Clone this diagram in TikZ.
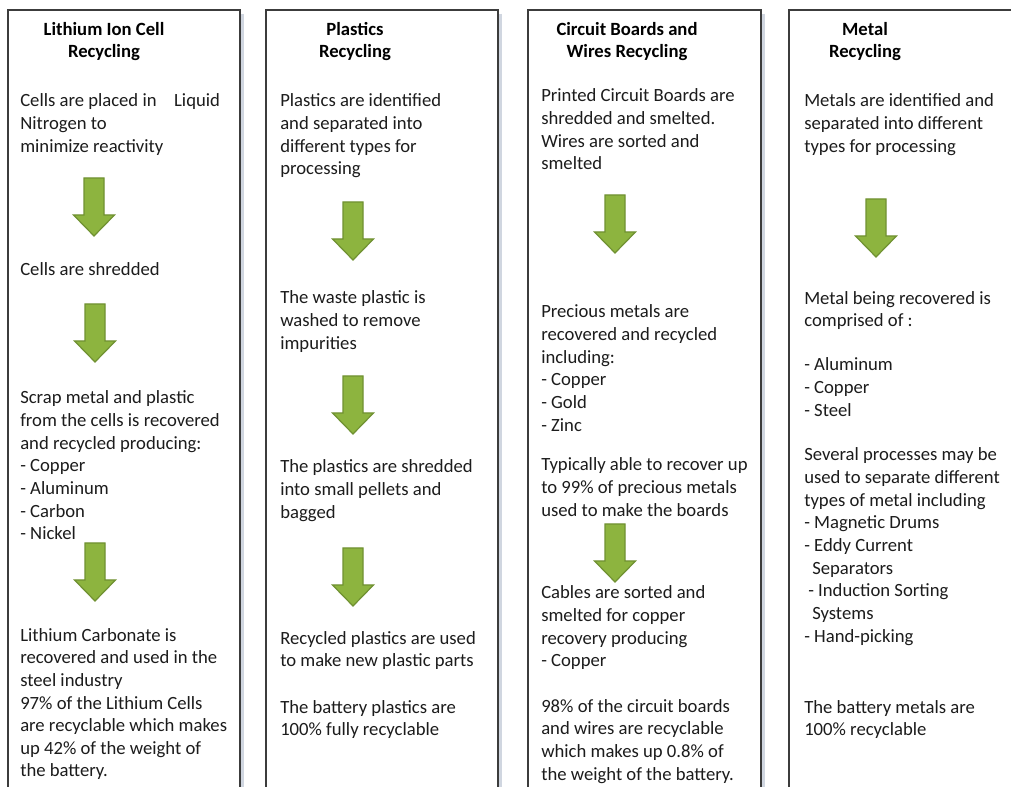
\documentclass[tikz,border=0pt]{standalone}
\usepackage{fontspec}
\setmainfont{Carlito}
\usetikzlibrary{positioning}
\definecolor{ArrowGreen}{RGB}{141,180,63}
\definecolor{ArrowEdge}{RGB}{112,145,50}
\definecolor{BoxEdge}{RGB}{60,60,60}
\definecolor{BoxShade}{RGB}{208,214,224}
\definecolor{TextGray}{RGB}{28,28,28}
\tikzset{
  panel/.style={draw=BoxEdge,line width=1.1pt},
  panelshade/.style={draw=BoxShade,line width=2.2pt},
  heading/.style={font=\bfseries\fontsize{14}{17}\selectfont,align=center,
    anchor=base,inner sep=0pt,text=black},
  body/.style={font=\fontsize{14}{17}\selectfont,align=left,
    anchor=base west,inner sep=0pt,text=TextGray},
  downarrow/.style={fill=ArrowGreen,draw=ArrowEdge,line width=0.9pt,line join=miter}
}
% block arrow pointing down: centre x, top y (pixel units)
\newcommand{\greenarrow}[2]{%
  \draw[downarrow] (#1-10,#2) -- (#1+10,#2) -- (#1+10,#2+37) -- (#1+20.5,#2+37)
    -- (#1,#2+58) -- (#1-20.5,#2+37) -- (#1-10,#2+37) -- cycle;}

\begin{document}
\begin{tikzpicture}[x=0.75pt,y=-0.75pt]
  \useasboundingbox (0,0) rectangle (1011,787);
  \clip (0,0) rectangle (1011,787);
  \fill[white] (0,0) rectangle (1011,787);

  % the four panels, open at the bottom
  \draw[panelshade] (242.5,14) -- (242.5,787);
  \draw[panelshade] (500.5,14) -- (500.5,787);
  \draw[panelshade] (763.5,14) -- (763.5,787);
  \draw[panel] (8,787) -- (8,10) -- (240,10) -- (240,787);
  \draw[panel] (266,787) -- (266,10) -- (498,10) -- (498,787);
  \draw[panel] (528,787) -- (528,10) -- (761,10) -- (761,787);
  \draw[panel] (789,787) -- (789,10) -- (1020,10) -- (1020,787);

  % nodes sit on the baseline of their last line
  % Lithium ion cells
  \node[heading] (li-title) at (104,58) {Lithium Ion Cell\\Recycling};
  \node[body] (li-cool) at (20,152.3) {Cells are placed in\hspace{10pt} Liquid\\Nitrogen to\\minimize reactivity};
  \greenarrow{94}{178}
  \node[body] (li-shred) at (20,276) {Cells are shredded};
  \greenarrow{95}{304}
  \node[body] (li-scrap) at (20,540) {Scrap metal and plastic\\from the cells is recovered\\and recycled producing:\\- Copper\\- Aluminum\\- Carbon\\- Nickel};
  \greenarrow{95}{543}
  \node[body] (li-carb) at (20,777) {Lithium Carbonate is\\recovered and used in the\\steel industry\\97\% of the Lithium Cells\\are recyclable which makes\\up 42\% of the weight of\\the battery.};

  % Plastics
  \node[heading] (pl-title) at (355,58) {Plastics\\Recycling};
  \node[body] (pl-sort) at (280,175) {Plastics are identified\\and separated into\\different types for\\processing};
  \greenarrow{353}{202}
  \node[body] (pl-wash) at (280,349.3) {The waste plastic is\\washed to remove\\impurities};
  \greenarrow{353}{376}
  \node[body] (pl-shred) at (280,518.3) {The plastics are shredded\\into small pellets and\\bagged};
  \greenarrow{353}{548}
  \node[body] (pl-reuse) at (280,666.7) {Recycled plastics are used\\to make new plastic parts};
  \node[body] (pl-total) at (280,735.7) {The battery plastics are\\100\% fully recyclable};

  % Circuit boards and wires
  \node[heading] (cb-title) at (627,58) {Circuit Boards and\\Wires Recycling};
  \node[body] (cb-smelt) at (541,170) {Printed Circuit Boards are\\shredded and smelted.\\Wires are sorted and\\smelted};
  \greenarrow{615}{195}
  \node[body] (cb-prec) at (541,431.3) {Precious metals are\\recovered and recycled\\including:\\- Copper\\- Gold\\- Zinc};
  \node[body] (cb-rate) at (541,516.3) {Typically able to recover up\\to 99\% of precious metals\\used to make the boards};
  \greenarrow{615}{524}
  \node[body] (cb-cable) at (541,667) {Cables are sorted and\\smelted for copper\\recovery producing\\- Copper};
  \node[body] (cb-total) at (541,780) {98\% of the circuit boards\\and wires are recyclable\\which makes up 0.8\% of\\the weight of the battery.};

  % Metals
  \node[heading] (mt-title) at (865,58) {Metal\\Recycling};
  \node[body] (mt-sort) at (804,152.3) {Metals are identified and\\separated into different\\types for processing};
  \greenarrow{876}{199}
  \node[body] (mt-kind) at (804,326.7) {Metal being recovered is\\comprised of :};
  \node[body] (mt-list) at (804,416.3) {- Aluminum\\- Copper\\- Steel};
  \node[body] (mt-proc) at (804,642.3) {Several processes may be\\used to separate different\\types of metal including\\- Magnetic Drums\\- Eddy Current\\\hspace*{6pt}Separators\\\hspace*{3pt}- Induction Sorting\\\hspace*{6pt}Systems\\- Hand-picking};
  \node[body] (mt-total) at (804,735.7) {The battery metals are\\100\% recyclable};
\end{tikzpicture}
\end{document}
